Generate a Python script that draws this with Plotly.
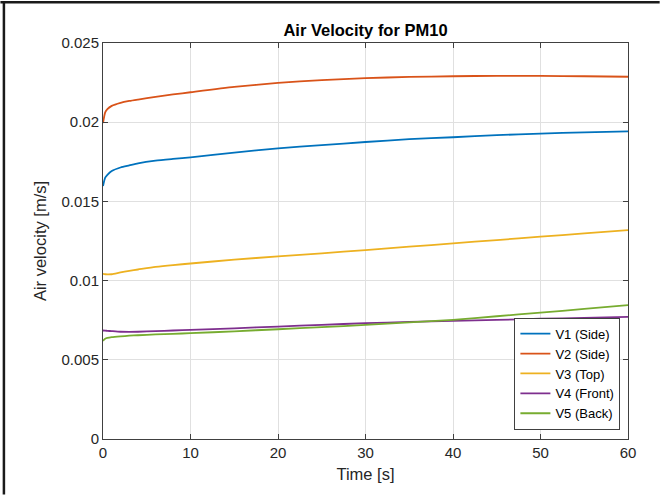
import plotly.graph_objects as go

# ---- data ----
time_s = [0, 0.25, 0.5, 1, 2, 3, 4, 6, 8, 10, 15, 20, 25, 30, 35, 40, 45, 50, 55, 60]

v1_side = [0.01597, 0.01650, 0.01668, 0.01692, 0.01714, 0.01727, 0.01740, 0.01757, 0.01768, 0.01778,
           0.01808, 0.01835, 0.01855, 0.01875, 0.01893, 0.01905, 0.01918, 0.01928, 0.01936, 0.01942]
v2_side = [0.01995, 0.02062, 0.02082, 0.02103, 0.02122, 0.02134, 0.02143, 0.02160, 0.02175, 0.02189,
           0.02223, 0.02248, 0.02266, 0.02278, 0.02286, 0.02290, 0.02293, 0.02292, 0.02290, 0.02287]
v3_top = [0.01042, 0.01040, 0.01039, 0.01040, 0.01052, 0.01062, 0.01070, 0.01086, 0.01098, 0.01108,
          0.01132, 0.01153, 0.01172, 0.01193, 0.01214, 0.01235, 0.01256, 0.01277, 0.01298, 0.01319]
v4_front = [0.00685, 0.00684, 0.00683, 0.00681, 0.00677, 0.00676, 0.00677, 0.00681, 0.00685, 0.00689,
            0.00699, 0.00710, 0.00721, 0.00731, 0.00739, 0.00746, 0.00752, 0.00759, 0.00765, 0.00771]
v5_back = [0.00620, 0.00633, 0.00638, 0.00643, 0.00648, 0.00652, 0.00655, 0.00660, 0.00664, 0.00668,
           0.00680, 0.00693, 0.00706, 0.00720, 0.00736, 0.00752, 0.00775, 0.00798, 0.00821, 0.00845]

series_names = ["V1 (Side)", "V2 (Side)", "V3 (Top)", "V4 (Front)", "V5 (Back)"]
series_values = [v1_side, v2_side, v3_top, v4_front, v5_back]
series_colors = ["#0072BD", "#D95319", "#EDB120", "#7E2F8E", "#77AC30"]

y_tickvals = [0, 0.005, 0.01, 0.015, 0.02, 0.025]
y_ticktext = ["0", "0.005", "0.01", "0.015", "0.02", "0.025"]
x_tickvals = [0, 10, 20, 30, 40, 50, 60]

FONT = "Liberation Sans, Arial, Helvetica, sans-serif"
AX = "#404040"

fig = go.Figure()
for name, vals, col in zip(series_names, series_values, series_colors):
    fig.add_trace(go.Scatter(x=time_s, y=vals, mode="lines", name=name,
                             line=dict(color=col, width=1.8, shape="spline", smoothing=0.6)))

W, H = 660, 495
L, R, T, B = 102.7, 31.7, 42.7, 55.7
pw, ph = W - L - R, H - T - B

fig.update_layout(
    width=W, height=H,
    margin=dict(l=L, r=R, t=T, b=B, pad=0),
    paper_bgcolor="white", plot_bgcolor="white",
    font=dict(family=FONT, color="#262626"),
    title=dict(text="<b>Air Velocity for PM10</b>", x=0.5, xref="paper", xanchor="center",
               y=1 - 30.5 / H, yanchor="middle", yref="container",
               font=dict(size=16.5, color="#000000", family=FONT)),
    showlegend=True,
    legend=dict(x=1 - (628.3 - 620.7) / pw, xanchor="right",
                y=(439.3 - 430) / ph, yanchor="bottom",
                bgcolor="white", bordercolor=AX, borderwidth=1,
                font=dict(size=13, color="#000000", family=FONT),
                tracegroupgap=0, itemwidth=30),
)

fig.update_xaxes(range=[0, 60], tickvals=x_tickvals, ticks="inside", ticklen=5, tickcolor=AX,
                 showline=True, linecolor=AX, linewidth=1, mirror="allticks",
                 showgrid=True, gridcolor="#e0e0e0", gridwidth=1, zeroline=False,
                 tickfont=dict(size=15, color="#262626"),
                 title=dict(text="Time [s]", font=dict(size=16.5, color="#262626"), standoff=8))
fig.update_yaxes(range=[0, 0.025], tickvals=y_tickvals, ticktext=y_ticktext, ticks="inside", ticklen=5,
                 tickcolor=AX, showline=True, linecolor=AX, linewidth=1, mirror="allticks",
                 showgrid=True, gridcolor="#e0e0e0", gridwidth=1, zeroline=False,
                 tickfont=dict(size=15, color="#262626"),
                 title=dict(text="Air velocity [m/s]", font=dict(size=16.5, color="#262626"), standoff=10))

# frame lines of the cropped figure (top and left edges)
fig.add_shape(type="line", xref="paper", yref="paper",
              x0=(0 - L) / pw, x1=(W - L) / pw, y0=(H - B - 2) / ph, y1=(H - B - 2) / ph,
              line=dict(color="#1a1a1a", width=2.5))
fig.add_shape(type="line", xref="paper", yref="paper",
              x0=(3.5 - L) / pw, x1=(3.5 - L) / pw, y0=(H - B - 1) / ph, y1=-B / ph,
              line=dict(color="#1a1a1a", width=2.5))

fig.write_html("out.html")
